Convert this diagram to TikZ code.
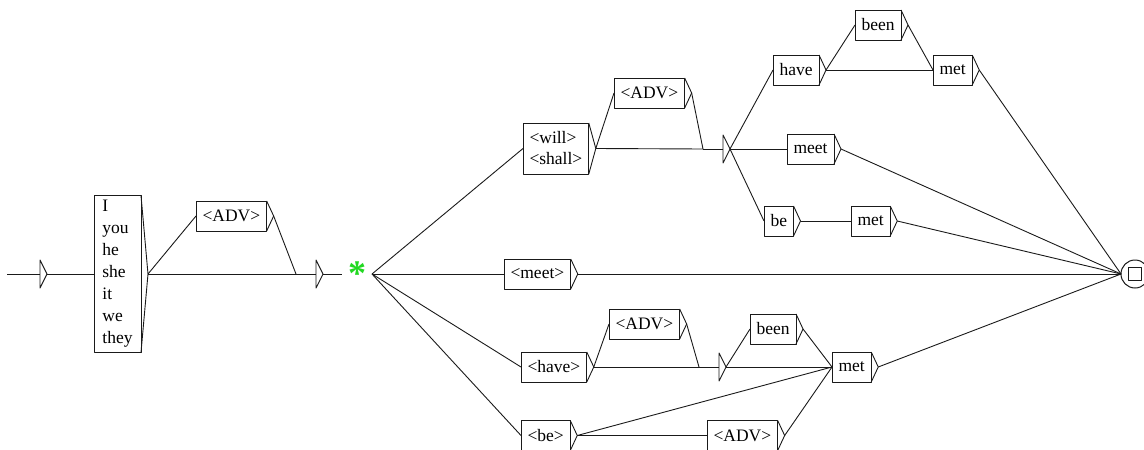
\documentclass[tikz,border=0pt]{standalone}
\usepackage{fontspec}
\setmainfont{Liberation Serif}
\usetikzlibrary{calc,positioning}
\definecolor{cInk}{HTML}{1A1A1A}
\definecolor{cStar}{HTML}{22D822}

\begin{document}
\begin{tikzpicture}[
  x=1pt, y=-1pt,
  font=\fontsize{17.5}{21}\selectfont,
  line join=round,
  conn/.style={draw=cInk, line width=0.9pt},
  wbox/.style={draw=cInk, line width=1pt, rectangle, anchor=west,
    minimum height=30pt, inner xsep=6.5pt, inner ysep=2pt, outer sep=0pt,
    align=left},
  ebox/.style={anchor=west, minimum width=20pt, minimum height=28pt,
    inner sep=0pt, outer sep=0pt},
  fstate/.style={draw=cInk, line width=1pt, circle, minimum size=28pt,
    inner sep=0pt, outer sep=0pt},
  startxt/.style={text=cStar, font=\fontsize{36}{36}\selectfont\bfseries,
    minimum width=30pt, inner sep=0pt, outer sep=0pt},
]
\useasboundingbox (0,0) rectangle (1144,450);

% ---- Box tips (triangle on the right of a box) ----
\newcommand{\wtip}[1]{%
  \draw[conn] (#1.north east) -- ($(#1.east)+(7,0)$) coordinate (#1-t)
    -- (#1.south east);}
\newcommand{\etip}[1]{%
  \draw[conn] (#1.west) -- (#1.east);
  \draw[conn] (#1.north east) -- ($(#1.east)+(7,0)$) coordinate (#1-t)
    -- (#1.south east) -- cycle;}

% ---- Subject part ----
\coordinate (in) at (7,274);
\node[ebox, minimum width=33pt] (init) at (7,274) {};
\etip{init}

\node[wbox, minimum height=157pt, minimum width=47pt,
  font=\fontsize{17.5}{22}\selectfont] (pron) at (94,274)
  {I\\you\\he\\she\\it\\we\\they};
\wtip{pron}

\node[wbox] (advA) at (196,216) {<ADV>};
\wtip{advA}

\node[ebox] (joinA) at (296,274) {};
\etip{joinA}

\node[startxt] (star) at (357,274) {\raisebox{-2pt}{*}};

% ---- Future branch ----
\node[wbox, minimum height=51pt] (will) at (523,148.5) {<will>\\<shall>};
\wtip{will}
\node[wbox] (advB) at (614,93) {<ADV>};
\wtip{advB}
\node[ebox] (joinB) at (703,149) {};
\etip{joinB}

\node[wbox] (have) at (773,70) {have};
\wtip{have}
\node[wbox] (beenA) at (855,25) {been};
\wtip{beenA}
\node[wbox] (metA) at (933,70) {met};
\wtip{metA}
\node[wbox] (meet) at (787,149) {meet};
\wtip{meet}
\node[wbox] (be) at (764,221) {be};
\wtip{be}
\node[wbox] (metB) at (851,221) {met};
\wtip{metB}

% ---- Present branch ----
\node[wbox] (meetL) at (504,274) {<meet>};
\wtip{meetL}

% ---- Perfect / passive branch ----
\node[wbox] (haveL) at (521,367) {<have>};
\wtip{haveL}
\node[wbox] (advC) at (609,324) {<ADV>};
\wtip{advC}
\node[ebox] (joinC) at (699,367) {};
\etip{joinC}
\node[wbox] (beenB) at (750,329) {been};
\wtip{beenB}
\node[wbox] (metC) at (832,367) {met};
\wtip{metC}
\node[wbox] (beL) at (521,435.5) {<be>};
\wtip{beL}
\node[wbox] (advD) at (707,435.5) {<ADV>};
\wtip{advD}

% ---- Final state ----
\node[fstate] (fin) at (1135,274) {};
\draw[cInk, line width=1pt] ($(fin)+(-6.5,-6.5)$) rectangle ($(fin)+(6.5,6.5)$);

% ---- Transitions ----
\draw[conn] (in) -- (init.west);
\draw[conn] (init-t) -- (pron.west);
\draw[conn] (pron-t) -- (advA.west);
\draw[conn] (pron-t) -- (joinA.west);
\draw[conn] (advA-t) -- (joinA.west);
\draw[conn] (joinA-t) -- (star.west);

\foreach \n in {will,meetL,haveL,beL}
  \draw[conn] (star.east) -- (\n.west);

\draw[conn] (will-t) -- (advB.west);
\draw[conn] (will-t) -- (joinB.west);
\draw[conn] (advB-t) -- (joinB.west);
\foreach \n in {have,meet,be}
  \draw[conn] (joinB-t) -- (\n.west);
\draw[conn] (have-t) -- (beenA.west);
\draw[conn] (have-t) -- (metA.west);
\draw[conn] (beenA-t) -- (metA.west);
\draw[conn] (be-t) -- (metB.west);

\draw[conn] (haveL-t) -- (advC.west);
\draw[conn] (haveL-t) -- (joinC.west);
\draw[conn] (advC-t) -- (joinC.west);
\draw[conn] (joinC-t) -- (beenB.west);
\draw[conn] (joinC-t) -- (metC.west);
\draw[conn] (beenB-t) -- (metC.west);
\draw[conn] (beL-t) -- (metC.west);
\draw[conn] (beL-t) -- (advD.west);
\draw[conn] (advD-t) -- (metC.west);

\foreach \n in {metA,meet,metB,meetL,metC}
  \draw[conn] (\n-t) -- (fin.west);

\end{tikzpicture}
\end{document}
